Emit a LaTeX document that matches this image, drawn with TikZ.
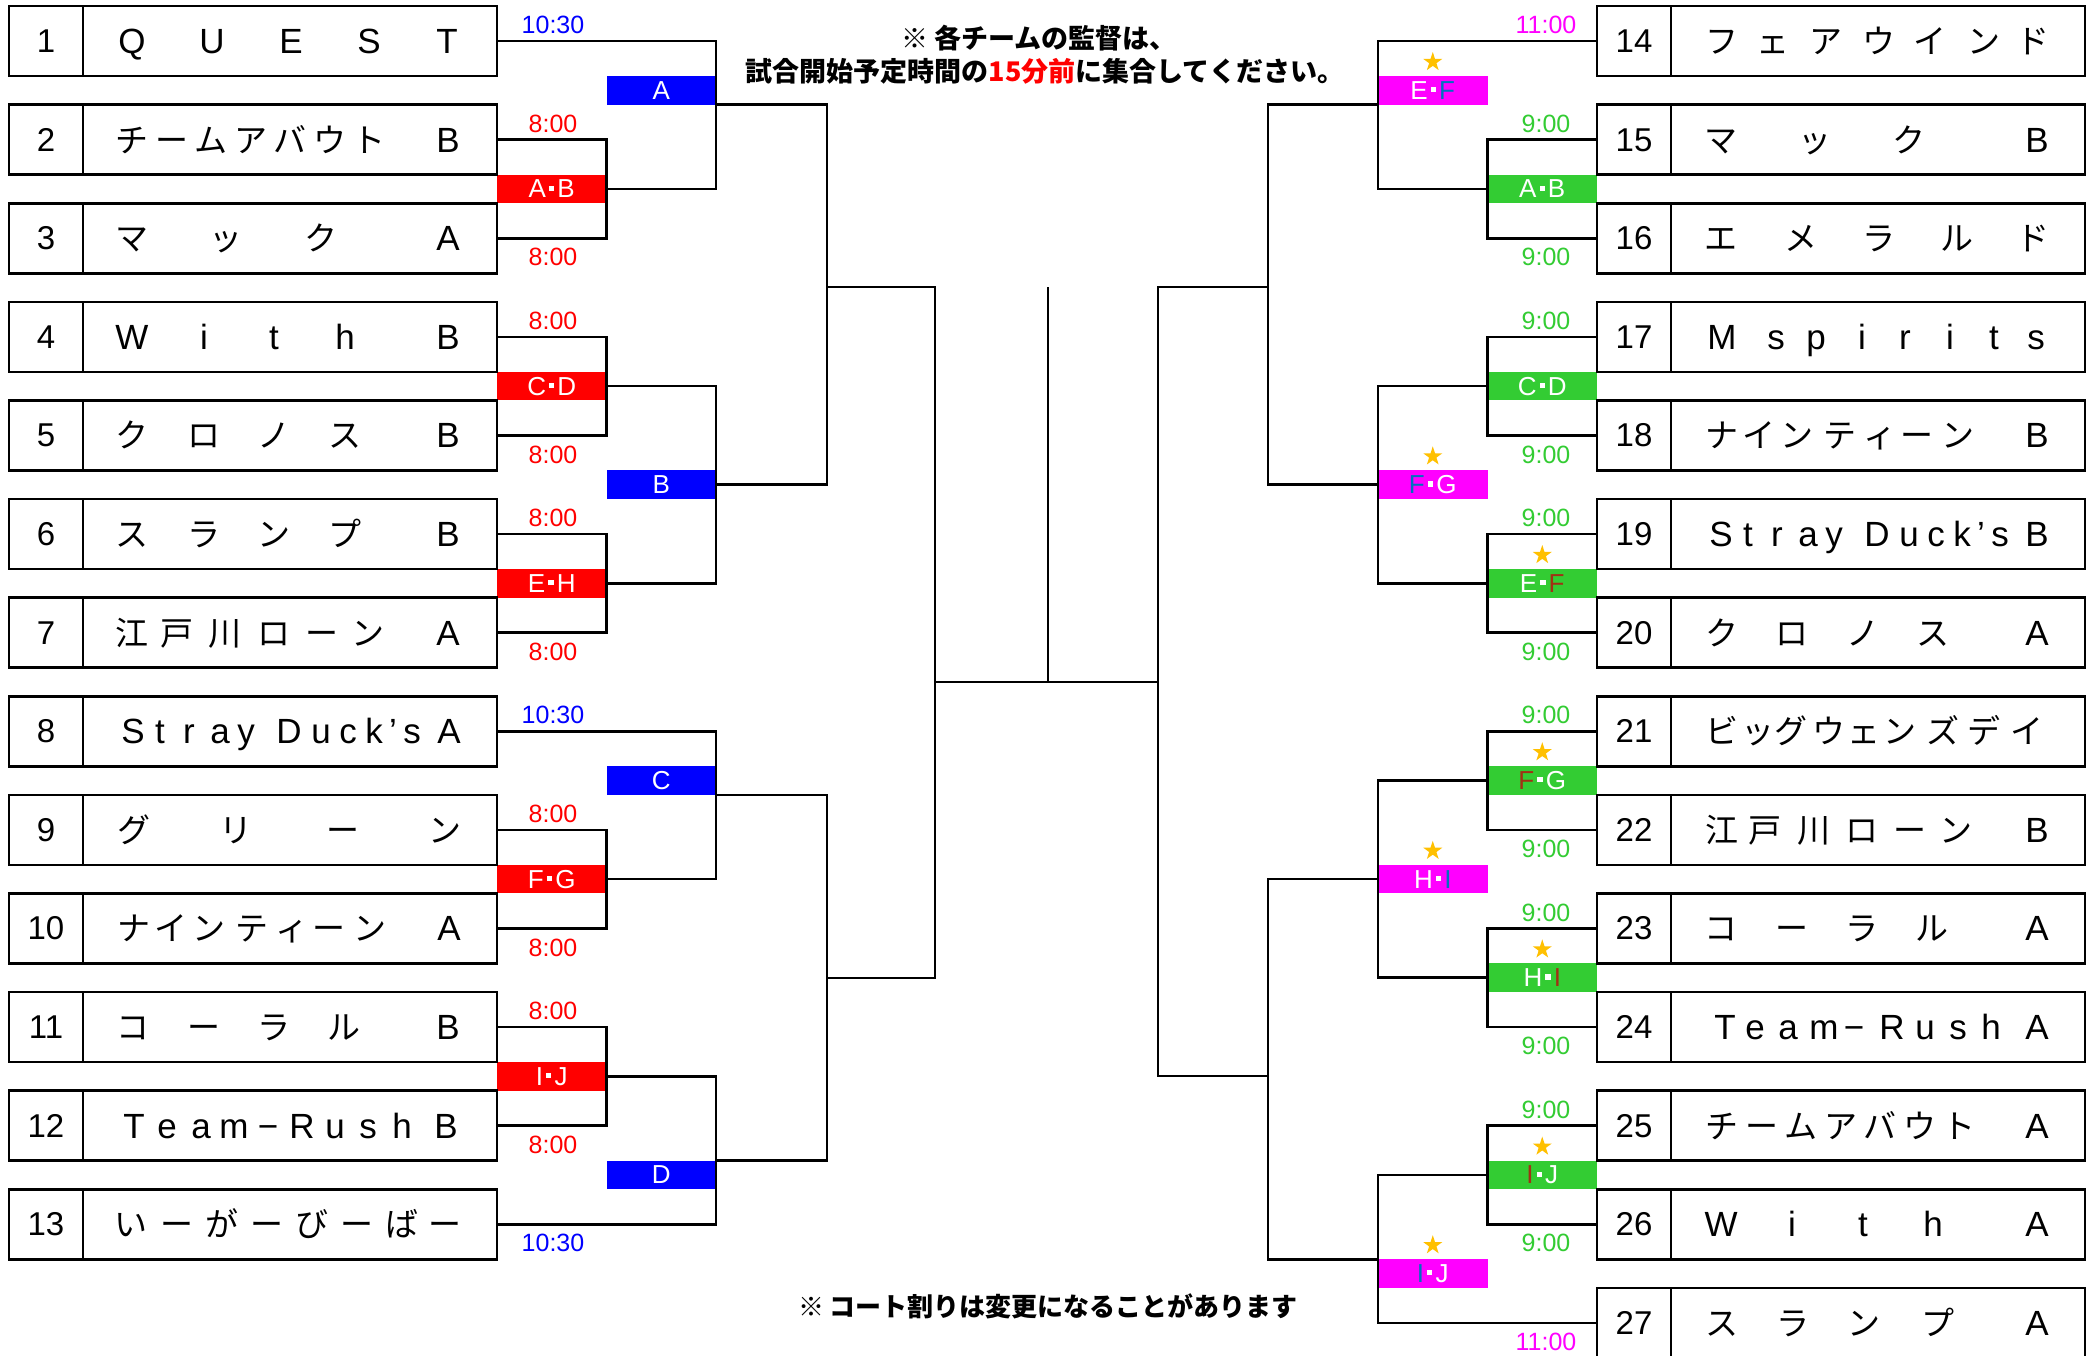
\documentclass[tikz,border=0pt]{standalone}
\usepackage{fontspec}
\setmainfont{Liberation Sans}
\newfontfamily\jpfont{Noto Sans CJK JP}
\usetikzlibrary{shapes.geometric,calc}
\definecolor{cred}{RGB}{255,0,0}
\definecolor{cblue}{RGB}{0,0,255}
\definecolor{cgreen}{RGB}{51,204,51}
\definecolor{cmag}{RGB}{255,0,255}
\definecolor{cstar}{RGB}{255,192,0}
\definecolor{lblue}{RGB}{0,112,192}
\definecolor{lbrown}{RGB}{160,50,20}
\newcommand\latsz{\fontsize{35}{35}\selectfont}
\newcommand\jpsz{\jpfont\fontsize{33}{33}\selectfont}
\def\tkk#1\relax{\ifnum`#1<"2E80\relax{\latsz #1}\else{\jpsz #1}\fi}
\newcommand\tk[1]{\edef\tkx{#1}\expandafter\tkk\tkx\relax}
\newcommand\md{\hspace{0.12em}{\color{white}\rule[0.27em]{0.2em}{0.2em}}\hspace{0.12em}}
\tikzset{
 bline/.style={line width=2.6pt, line join=miter, line cap=rect},
 tbox/.style={draw, line width=2.6pt, minimum width=488pt, minimum height=70pt, inner sep=0pt, outer sep=0pt, anchor=north west},
 num/.style={anchor=base, inner sep=0pt, font=\fontsize{33}{33}\selectfont},
 ch/.style={anchor=base, inner sep=0pt},
 lab/.style={rectangle, inner sep=0pt, outer sep=0pt, minimum width=109.5pt, minimum height=28.6pt, anchor=north west, text=white, font=\fontsize{26}{26}\selectfont},
 tm/.style={inner sep=0pt, font=\fontsize{25}{25}\selectfont},
 starn/.style={star, star points=5, star point ratio=2.6, fill=cstar, draw=none, minimum size=20pt, inner sep=0pt},
 ttl/.style={inner sep=0pt, font=\jpfont\bfseries\fontsize{27}{27}\selectfont},
}
\newcommand\teamrow[5]{%
 \pgfmathsetmacro\ty{6+(#3-1)*98.6}%
 \pgfmathsetmacro\tc{\ty+35}%
 \node[tbox] (#1) at (#2,\ty) {};
 \draw[line width=2.6pt] (#2+74,\ty) -- (#2+74,\ty+70);
 \node[num] (#1n) at (#2+37,\tc+11.5) {#4};
 \foreach \cc/\pp [count=\ii] in {#5} {\node[ch] (#1c\ii) at (#2+74+\pp,\tc+12.5) {\expandafter\tk\expandafter{\cc}};}
}
\begin{document}
\begin{tikzpicture}[x=1pt,y=-1pt]
\fill[white] (0,0) rectangle (2096,1355);
\useasboundingbox (0,0) rectangle (2096,1355);
% ---------- labels ----------
\node[lab, fill=cred] (rAB) at (497,174.6) {A\md B};
\node[lab, fill=cred] (rCD) at (497,371.8) {C\md D};
\node[lab, fill=cred] (rEH) at (497,569) {E\md H};
\node[lab, fill=cred] (rFG) at (497,864.8) {F\md G};
\node[lab, fill=cred] (rIJ) at (497,1062) {I\md J};
\node[lab, fill=cblue] (bA) at (606.5,76) {A};
\node[lab, fill=cblue] (bB) at (606.5,470.4) {B};
\node[lab, fill=cblue] (bC) at (606.5,766.2) {C};
\node[lab, fill=cblue] (bD) at (606.5,1160.6) {D};
\node[lab, fill=cgreen] (gAB) at (1487.5,174.6) {A\md B};
\node[lab, fill=cgreen] (gCD) at (1487.5,371.8) {C\md D};
\node[lab, fill=cgreen] (gEF) at (1487.5,569) {E\md{\color{lbrown}F}};
\node[lab, fill=cgreen] (gFG) at (1487.5,766.2) {{\color{lbrown}F}\md G};
\node[lab, fill=cgreen] (gHI) at (1487.5,963.4) {H\md{\color{lbrown}I}};
\node[lab, fill=cgreen] (gIJ) at (1487.5,1160.6) {{\color{lbrown}I}\md J};
\node[lab, fill=cmag] (mEF) at (1378,76) {E\md{\color{lblue}F}};
\node[lab, fill=cmag] (mFG) at (1378,470.4) {{\color{lblue}F}\md G};
\node[lab, fill=cmag] (mHI) at (1378,864.8) {H\md{\color{lblue}I}};
\node[lab, fill=cmag] (mIJ) at (1378,1259.2) {{\color{lblue}I}\md J};
\foreach \s in {gEF,gFG,gHI,gIJ,mEF,mFG,mHI,mIJ}
  \node[starn] (st\s) at ([yshift=14pt]\s.north) {};
% ---------- teams ----------
\teamrow{L1}{9}{1}{1}{Q/49,U/129,E/208,S/286,T/364}
\teamrow{L2}{9}{2}{2}{チ/49,ー/88.5,ム/128,ア/167.5,バ/207,ウ/246.5,ト/286,B/365}
\teamrow{L3}{9}{3}{3}{マ/49,ッ/143,ク/238,A/365}
\teamrow{L4}{9}{4}{4}{W/49,i/121,t/191,h/262,B/365}
\teamrow{L5}{9}{5}{5}{ク/49,ロ/121,ノ/191,ス/262,B/365}
\teamrow{L6}{9}{6}{6}{ス/49,ラ/121,ン/191,プ/262,B/365}
\teamrow{L7}{9}{7}{7}{江/49,戸/94,川/142,ロ/191,ー/239,ン/285,A/365}
\teamrow{L8}{9}{8}{8}{S/50,t/77,r/106,a/137,y/163,D/206,u/238,c/265,k/291,’/310,s/329,A/366}
\teamrow{L9}{9}{9}{9}{グ/51,リ/153,ー/260,ン/362}
\teamrow{L10}{9}{10}{10}{ナ/51,イ/88,ン/126,テ/169,ィ/209,ー/246,ン/287,A/366}
\teamrow{L11}{9}{11}{11}{コ/50,ー/121,ラ/191,ル/261,B/365}
\teamrow{L12}{9}{12}{12}{T/51,e/84,a/118,m/151,−/185,R/219,u/252,s/285,h/319,B/363}
\teamrow{L13}{9}{13}{13}{い/48,ー/93.5,が/139,ー/184,び/229,ー/274,ば/319,ー/362}
\teamrow{R14}{1597}{1}{14}{フ/51,ェ/102,ア/155,ウ/208,イ/259,ン/313,ド/362}
\teamrow{R15}{1597}{2}{15}{マ/50,ッ/144,ク/238,B/366}
\teamrow{R16}{1597}{3}{16}{エ/50,メ/130,ラ/208,ル/286,ド/362}
\teamrow{R17}{1597}{4}{17}{M/51,s/105,p/145,i/191,r/234,i/279,t/323,s/365}
\teamrow{R18}{1597}{5}{18}{ナ/51,イ/88,ン/126,テ/169,ィ/209,ー/246,ン/287,B/366}
\teamrow{R19}{1597}{6}{19}{S/50,t/77,r/106,a/137,y/163,D/206,u/238,c/265,k/291,’/310,s/329,B/366}
\teamrow{R20}{1597}{7}{20}{ク/51,ロ/121,ノ/192,ス/262,A/366}
\teamrow{R21}{1597}{8}{21}{ビ/51,ッ/87,グ/120,ウ/158,ェ/193,ン/229,ズ/272,デ/313,イ/356}
\teamrow{R22}{1597}{9}{22}{江/51,戸/94,川/143,ロ/191,ー/239,ン/285,B/366}
\teamrow{R23}{1597}{10}{23}{コ/50,ー/121,ラ/191,ル/261,A/366}
\teamrow{R24}{1597}{11}{24}{T/54,e/84,a/117,m/153,−/183,R/221,u/254,s/287,h/320,A/366}
\teamrow{R25}{1597}{12}{25}{チ/51,ー/90.5,ム/130,ア/169.5,バ/209,ウ/248.5,ト/288,A/366}
\teamrow{R26}{1597}{13}{26}{W/50,i/121,t/192,h/262,A/366}
\teamrow{R27}{1597}{14}{27}{ス/51,ラ/122,ン/193,プ/267,A/366}
% ---------- left bracket ----------
\draw[bline] (L1.east) -| (bA.east |- rAB.east) -- (rAB.east);
\draw[bline] (L2.east) -| (rAB.east) |- (L3.east);
\draw[bline] (L4.east) -| (rCD.east) |- (L5.east);
\draw[bline] (L6.east) -| (rEH.east) |- (L7.east);
\draw[bline] (rCD.east) -| (bB.east) |- (rEH.east);
\coordinate (qL1) at (827,287);
\coordinate (sL1) at (935,287);
\draw[bline] (bA.south east) -| (qL1) |- (bB.east);
\draw[bline] (qL1) -- (sL1);
\draw[bline] (L8.east) -| (bC.east |- rFG.east) -- (rFG.east);
\draw[bline] (L9.east) -| (rFG.east) |- (L10.east);
\draw[bline] (L11.east) -| (rIJ.east) |- (L12.east);
\draw[bline] (rIJ.east) -| (bD.east |- L13.east) -- (L13.east);
\coordinate (qL2) at (827,978);
\coordinate (sL2) at (935,978);
\draw[bline] (bC.south east) -| (qL2) |- (bD.north east);
\draw[bline] (qL2) -- (sL2);
\draw[bline] (sL1) -- (sL2);
% ---------- right bracket ----------
\draw[bline] (R14.west) -| (mEF.west |- gAB.west) -- (gAB.west);
\draw[bline] (R15.west) -| (gAB.west) |- (R16.west);
\draw[bline] (R17.west) -| (gCD.west) |- (R18.west);
\draw[bline] (R19.west) -| (gEF.west) |- (R20.west);
\draw[bline] (gCD.west) -| (mFG.west) |- (gEF.west);
\coordinate (qR1) at (1268,287);
\coordinate (sR1) at (1158,287);
\draw[bline] (mEF.south west) -| (qR1) |- (mFG.west);
\draw[bline] (qR1) -- (sR1);
\draw[bline] (R21.west) -| (gFG.west) |- (R22.west);
\draw[bline] (R23.west) -| (gHI.west) |- (R24.west);
\draw[bline] (gFG.west) -| (mHI.west) |- (gHI.west);
\draw[bline] (R25.west) -| (gIJ.west) |- (R26.west);
\draw[bline] (gIJ.west) -| (mIJ.west |- R27.west) -- (R27.west);
\coordinate (qR2) at (1268,1076);
\coordinate (sR2) at (1158,1076);
\draw[bline] (mHI.west) -| (qR2) |- (mIJ.north west);
\draw[bline] (qR2) -- (sR2);
\draw[bline] (sR1) -- (sR2);
% ---------- final ----------
\coordinate (fL) at (935,682);
\coordinate (fR) at (1158,682);
\coordinate (fC) at (1048,682);
\coordinate (fT) at (1048,288);
\draw[bline] (fL) -- (fR);
\draw[bline] (fC) -- (fT);
% ---------- times ----------
\node[tm,text=cblue] (tl1) at (553,25) {10:30};
\node[tm,text=cred] (tl2) at (553,123.6) {8:00};
\node[tm,text=cred] (tl3) at (553,257.2) {8:00};
\node[tm,text=cred] (tl4) at (553,320.8) {8:00};
\node[tm,text=cred] (tl5) at (553,454.4) {8:00};
\node[tm,text=cred] (tl6) at (553,518) {8:00};
\node[tm,text=cred] (tl7) at (553,651.6) {8:00};
\node[tm,text=cblue] (tl8) at (553,715.2) {10:30};
\node[tm,text=cred] (tl9) at (553,813.8) {8:00};
\node[tm,text=cred] (tl10) at (553,947.4) {8:00};
\node[tm,text=cred] (tl11) at (553,1011) {8:00};
\node[tm,text=cred] (tl12) at (553,1144.6) {8:00};
\node[tm,text=cblue] (tl13) at (553,1243.2) {10:30};
\node[tm,text=cmag] (tr1) at (1546,25) {11:00};
\node[tm,text=cgreen] (tr2) at (1546,123.6) {9:00};
\node[tm,text=cgreen] (tr3) at (1546,257.2) {9:00};
\node[tm,text=cgreen] (tr4) at (1546,320.8) {9:00};
\node[tm,text=cgreen] (tr5) at (1546,454.4) {9:00};
\node[tm,text=cgreen] (tr6) at (1546,518) {9:00};
\node[tm,text=cgreen] (tr7) at (1546,651.6) {9:00};
\node[tm,text=cgreen] (tr8) at (1546,715.2) {9:00};
\node[tm,text=cgreen] (tr9) at (1546,848.8) {9:00};
\node[tm,text=cgreen] (tr10) at (1546,912.4) {9:00};
\node[tm,text=cgreen] (tr11) at (1546,1046) {9:00};
\node[tm,text=cgreen] (tr12) at (1546,1109.6) {9:00};
\node[tm,text=cgreen] (tr13) at (1546,1243.2) {9:00};
\node[tm,text=cmag] (tr14) at (1546,1341.8) {11:00};
% ---------- notes ----------
\node[ttl] (title1) at (1039,38) {※ 各チームの監督は、};
\node[ttl] (title2) at (1045,71) {試合開始予定時間の{\color{cred}15分前}に集合してください。};
\node[ttl, font=\jpfont\bfseries\fontsize{26}{26}\selectfont] (note) at (1048,1306) {※ コート割りは変更になることがあります};
\end{tikzpicture}
\end{document}
